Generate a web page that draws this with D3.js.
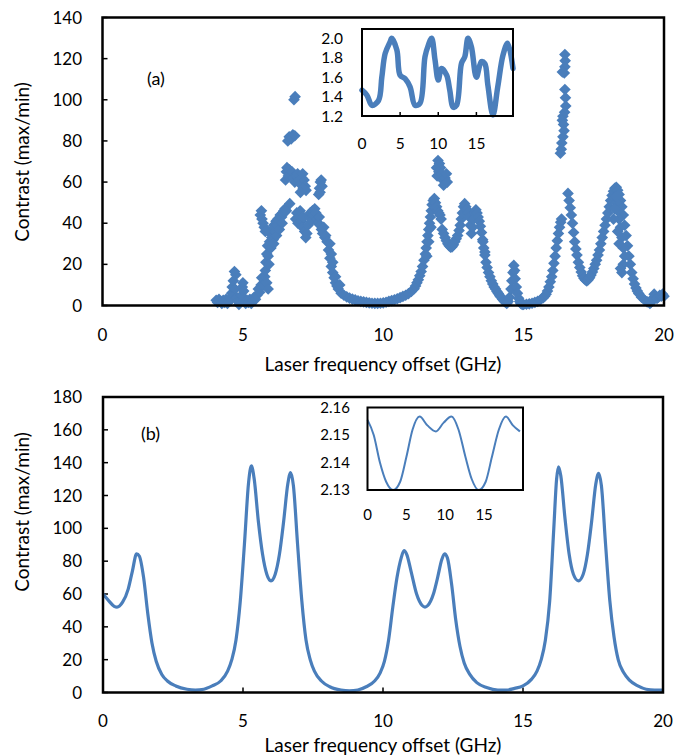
<!DOCTYPE html>
<html><head><meta charset="utf-8">
<script src="https://cdn.jsdelivr.net/npm/d3@7"></script>
<style>
body{margin:0;background:#fff}
text{font-family:Lato,'Open Sans',sans-serif;fill:#000}
</style>
</head><body>
<svg id="c" width="677" height="755"></svg>
<script>
// ---------- DATA ----------
// (a) measured contrast, scatter points
const measFreq = [
4.05,4.1,4.15,4.2,4.25,4.3,4.35,4.4,4.45,4.5,4.55,4.6,4.62,4.66,4.7,4.75,4.72,4.78,4.82,4.86,4.9,4.95,4.98,5.0,5.03,5.06,5.1,5.15,5.2,5.25,5.3,5.35,5.4,5.45,5.5,5.55,5.6,5.65,5.67,5.72,5.78,5.85,5.9,
5.8,5.82,5.85,5.88,5.9,5.93,5.95,5.98,6.0,6.03,6.05,6.08,6.1,6.15,6.18,6.22,6.25,6.3,6.33,6.38,6.42,6.46,6.5,6.55,
5.62,5.66,5.68,5.72,5.76,5.8,
6.67,6.82,6.86,6.6,6.65,6.72,6.78,6.85,6.52,6.55,6.57,6.62,6.66,6.7,6.75,6.8,6.85,6.9,6.95,7.0,7.05,7.1,7.13,7.18,7.22,7.25,7.15,7.05,
7.7,7.73,7.76,7.79,7.82,7.75,
6.88,6.92,6.96,7.0,7.04,7.08,7.12,7.16,7.2,7.24,7.28,7.32,7.36,7.4,7.44,7.48,7.52,7.56,7.6,7.64,7.68,7.72,7.76,7.8,7.84,7.88,7.92,7.95,8.0,8.05,8.1,8.15,8.2,8.25,8.3,8.35,8.4,8.5,8.6,8.7,
8.8,8.9,9.0,9.1,9.2,9.3,9.4,9.5,9.6,9.7,9.8,9.9,10.0,10.1,10.2,10.3,10.4,10.5,10.6,10.7,10.8,10.9,11.0,11.1,11.15,11.2,11.25,11.3,11.35,11.4,11.45,11.5,11.53,11.56,11.59,11.62,11.65,11.68,11.71,11.74,11.78,11.82,11.86,11.9,11.94,11.98,12.02,12.06,
11.9,11.95,12.0,12.04,11.92,11.98,12.08,12.12,12.15,12.2,12.25,12.28,
12.1,12.15,12.2,12.25,12.3,12.35,12.4,12.45,12.5,12.55,12.6,12.65,12.7,12.74,12.78,12.82,12.86,12.9,12.94,12.98,13.02,13.06,13.1,13.14,13.18,13.22,13.26,13.3,13.34,13.38,13.42,13.46,13.5,13.54,13.58,13.62,13.66,13.7,13.75,13.8,13.85,13.9,13.95,14.0,14.05,14.1,14.15,14.2,14.25,14.3,14.35,14.4,
14.45,14.5,14.55,14.58,14.62,14.65,14.68,14.7,14.74,14.78,14.82,14.86,14.9,14.95,
15.0,15.1,15.2,15.3,15.4,15.5,15.6,15.7,15.75,15.8,15.85,15.9,15.95,16.0,16.04,16.08,16.12,16.16,16.2,16.24,16.28,16.32,16.35,
16.47,16.49,16.5,16.46,16.4,16.38,16.42,16.44,16.4,16.36,16.34,16.31,
16.47,16.48,16.47,16.45,16.38,
16.58,16.62,16.66,16.7,16.74,16.78,16.82,16.86,16.9,16.95,17.0,17.05,17.1,17.15,17.2,17.25,17.3,17.35,17.4,17.45,17.5,17.55,17.6,17.65,17.7,17.75,17.8,17.85,17.9,17.95,18.0,18.05,18.1,18.15,18.2,18.25,18.3,18.35,18.4,18.45,18.5,18.55,18.6,18.65,18.7,18.75,18.8,18.85,18.9,18.95,19.0,19.05,19.1,19.2,19.3,19.4,19.5,19.55,19.6,19.65,19.7,19.75,19.8,19.85,19.9,19.95,20.0,
18.3,18.35,18.4,18.45,18.5,18.55,18.6,18.55,18.5,18.45,18.4,18.35,18.25,18.2,18.28,
6.1,6.2,6.3,6.4,8.1,8.15,8.2,8.3,8.45,11.55,11.62,11.7,13.55,13.62
];
const measContrast = [
2.5,1.5,3,2,1,2.5,1.5,3,1,2,3.5,6,9,12,16.5,15,8,4,2,0.5,2,5,9,11,7,3,1,2.5,1.5,3,1,2.5,4,3,5,8,6.5,10,13.5,10,14,11,8,
17,21,25,29,24,20,31,35,28,33,37,32,39,36,41,39,42,41,44,43,45,46,47,46,
44,46,42,40,38,36,
49.5,100,101.5,80,82,81,83,82.5,61,65,67,63,66,64,65,62,60,63,64,61,59,62,64,61,58,56,57,55,
54,57,60,61,58,55,
42,45,40,43,46,41,38,43,36,33,35,39,43,45,41,46,44,47,45,42,40,43,39,37,35,38,33,34,31,27,23,19,16,13.5,11,9.5,8,6,5,4.2,
3.6,3.1,2.7,2.3,2,1.8,1.5,1.3,1.1,1,1,1.1,1.3,1.6,2,2.4,2.8,3.3,3.8,4.4,5,5.8,6.8,8.2,9.5,11,12.5,14.5,16.5,19,22,25,28,31,34,37,40,43,46,49,51,52,50,48,46,45,44,42,
67,70.5,69,67,63,65,64,61,58.5,62,64,60,
37,35,33,31.5,30,29,28.4,28.5,29.5,31,32.5,34,36.5,39,42,45,48,49.5,48,46.5,45,43,39,35,38,42,45,46.5,45,43,41,38.5,35.5,32,28,24.5,21,18.5,16,14,12,10.5,9,8,6.8,5.8,4.8,4,3,2.3,1.6,1,
2,4,8,12,16,19.5,17,13,9,6,3.5,2,1,0.5,
0.5,0.6,0.8,1.1,1.5,2,2.8,3.8,4.5,5.5,7,9,11.5,14,17,20.5,24,28,31.5,35,38,40.5,42,
105,101,97,94,92,90,88,85,82,79,76,74,
122,119,116,113,113.5,
54.5,51,47.5,44,40,35.5,31,27.5,24.5,21,18.5,16.3,14.5,13.2,12.4,12,12.5,13.5,14.8,16.3,18,20,22,24.5,27,30,33,36,39,42,45,48,51,53.5,55.5,57,57.5,56,54,51,48,44,39,34,29,24,20,16,13,10.5,8.5,7,5.8,4,2.8,1.8,1,1.8,3.5,5.5,4.5,3.5,4,5,4.5,5.5,4.5,
50,46,42,38,33,28,24,20,16,18,30,36,47,42,53,
30,34,37,40,30,25,21,14,10,24,31,38,31,26
];
// (a) inset
const insetAFreq = [0,0.65,1.3,2.17,2.6,3.04,3.7,3.9,4.57,5.0,5.65,6.3,6.96,7.6,8.26,8.7,9.13,9.57,10.0,10.43,11.1,11.5,11.96,12.4,13.04,13.48,13.9,14.35,15.0,15.65,16.1,16.5,17.17,17.8,18.5,19.1,19.8];
const insetAVal  = [1.466,1.414,1.31,1.36,1.60,1.845,1.966,2.0,1.88,1.62,1.586,1.50,1.31,1.33,1.81,1.93,2.0,1.78,1.57,1.69,1.62,1.47,1.29,1.31,1.74,1.81,2.0,1.91,1.60,1.76,1.74,1.52,1.21,1.50,1.83,1.95,1.69];
// (b) simulated contrast
const simFreq = [0,0.2,0.4,0.5,0.7,0.9,1.05,1.2,1.3,1.45,1.6,1.75,1.9,2.1,2.3,2.6,3.0,3.3,3.6,3.9,4.2,4.45,4.6,4.75,4.9,5.05,5.2,5.3,5.4,5.55,5.7,5.85,6.0,6.15,6.3,6.45,6.6,6.7,6.8,6.95,7.1,7.25,7.4,7.55,7.8,8.1,8.5,8.8,9.1,9.4,9.7,9.9,10.05,10.2,10.35,10.5,10.65,10.75,10.85,11.0,11.2,11.4,11.5,11.6,11.8,11.95,12.1,12.2,12.3,12.45,12.6,12.75,12.9,13.1,13.35,13.7,14.1,14.4,14.7,15.0,15.3,15.5,15.65,15.8,15.95,16.1,16.2,16.27,16.35,16.5,16.65,16.8,16.98,17.15,17.3,17.45,17.6,17.7,17.8,17.95,18.1,18.25,18.4,18.6,18.8,19.1,19.4,19.7,20];
const simVal  = [60,56,52.5,52,55,63,74,84.5,83,70,48,30,19,11,7,4,2,1.5,2,4,7,13,20,32,55,90,128,138,130,104,84,72,68,72,84,104,127,134,126,90,56,32,20,13,7,3.5,1.5,1,1.5,3.5,7,12,19,32,52,70,82,86.5,84,74,60,53,52,53,60,70,81,84.5,82,66,44,28,18,11,6,3,1.5,1.5,2.5,4,8,13,20,32,55,100,130,137.5,132,106,84,72,68,72,84,104,127,133.5,126,90,56,34,20,12,7.5,4,2,1.5,1.5];
// (b) inset
const insetBFreq = [0,0.8,1.6,2.4,3.3,4.2,5.0,5.8,6.7,7.7,8.8,9.8,10.8,11.7,12.6,13.4,14.3,15.2,16.0,16.9,17.8,18.7,19.6];
const insetBVal  = [2.1555,2.150,2.140,2.133,2.130,2.133,2.142,2.152,2.1567,2.1535,2.1513,2.1545,2.1567,2.152,2.142,2.134,2.130,2.133,2.142,2.152,2.1567,2.1535,2.1513];
// ticks
const mainXTicks = [0,5,10,15,20];
const aYTicks = [0,20,40,60,80,100,120,140];
const bYTicks = [0,20,40,60,80,100,120,140,160,180];
const insetXTicks = [0,5,10,15];
const insetAYTicks = [1.2,1.4,1.6,1.8,2.0];
const insetBYTicks = [2.13,2.14,2.15,2.16];

// ---------- DRAW ----------
const svg = d3.select('#c');
svg.append('rect').attr('width',677).attr('height',755).attr('fill','#fff');
const BLUE = '#4A7EBB';

function frame(x, y, xt, yt, opt){
  const g = svg.append('g');
  const [x0,x1] = x.range(), [y0,y1] = y.range();
  if (opt.yTickLen) g.selectAll(null).data(yt).join('line')
    .attr('x1',x0).attr('x2',x0+opt.yTickLen).attr('y1',d=>y(d)).attr('y2',d=>y(d))
    .attr('stroke','#000').attr('stroke-width',1.5);
  if (opt.xTickLen) g.selectAll(null).data(xt.filter(d=>d>x.domain()[0] && d<x.domain()[1])).join('line')
    .attr('x1',d=>x(d)).attr('x2',d=>x(d)).attr('y1',y0).attr('y2',y0-opt.xTickLen)
    .attr('stroke','#000').attr('stroke-width',1.5);
  g.selectAll(null).data(yt).join('text')
    .attr('x',opt.yLabelX).attr('y',d=>y(d)).attr('dy','0.36em')
    .attr('text-anchor','end').attr('font-size',opt.fs)
    .text(opt.yfmt);
  g.selectAll(null).data(xt).join('text')
    .attr('x',d=>x(d)).attr('y',opt.xLabelY)
    .attr('text-anchor','middle').attr('font-size',opt.fs)
    .text(d=>d);
  return g;
}
function border(x,y,w){
  const [x0,x1] = x.range(), [y0,y1] = y.range();
  svg.append('rect').attr('x',x0).attr('y',y1).attr('width',x1-x0).attr('height',y0-y1)
    .attr('fill','none').attr('stroke','#000').attr('stroke-width',w);
}
const TFS = 19, LFS = 17;

// ===== Panel (a) =====
const xa = d3.scaleLinear().domain([0,20]).range([102.5,664]);
const ya = d3.scaleLinear().domain([0,140]).range([305.5,17.5]);
frame(xa, ya, mainXTicks, aYTicks, {yTickLen:5, xTickLen:5, yLabelX:82, xLabelY:341, fs:LFS, yfmt:d=>d});
const diamond = d3.symbol().type(d3.symbolSquare).size(68);
svg.append('g').selectAll('path').data(measFreq.map((f,i)=>[f,measContrast[i]])).join('path')
  .attr('d',diamond)
  .attr('transform',d=>`translate(${xa(d[0])},${ya(d[1])}) rotate(45)`)
  .attr('fill',BLUE);
border(xa, ya, 2.5);
svg.append('text').attr('x',147).attr('y',85).attr('font-size',18).text('(a)');
svg.append('text').attr('x',383).attr('y',371).attr('text-anchor','middle').attr('font-size',TFS).text('Laser frequency offset (GHz)');
svg.append('text').attr('transform','translate(29,162) rotate(-90)').attr('text-anchor','middle').attr('font-size',TFS).text('Contrast (max/min)');

// inset (a)
const xia = d3.scaleLinear().domain([0,19.8]).range([362,513]);
const yia = d3.scaleLinear().domain([1.2,2.096]).range([116,29]);
svg.append('rect').attr('x',362).attr('y',29).attr('width',151).attr('height',87).attr('fill','#fff');
frame(xia, yia, insetXTicks, insetAYTicks, {yTickLen:0, xTickLen:4, yLabelX:343, xLabelY:149, fs:15.5, yfmt:d3.format('.1f')});
svg.append('path').datum(insetAFreq.map((f,i)=>[f,insetAVal[i]]))
  .attr('d', d3.line().curve(d3.curveCatmullRom.alpha(0.5)).x(d=>xia(d[0])).y(d=>yia(d[1])))
  .attr('fill','none').attr('stroke',BLUE).attr('stroke-width',5.5).attr('stroke-linejoin','round').attr('stroke-linecap','round');
border(xia, yia, 2);

// ===== Panel (b) =====
const xb = d3.scaleLinear().domain([0,20]).range([103,663]);
const yb = d3.scaleLinear().domain([0,180]).range([692.5,397]);
frame(xb, yb, mainXTicks, bYTicks, {yTickLen:5, xTickLen:5, yLabelX:82, xLabelY:727, fs:LFS, yfmt:d=>d});
svg.append('path').datum(simFreq.map((f,i)=>[f,simVal[i]]))
  .attr('d', d3.line().curve(d3.curveMonotoneX).x(d=>xb(d[0])).y(d=>yb(d[1])))
  .attr('fill','none').attr('stroke',BLUE).attr('stroke-width',3.2);
border(xb, yb, 2.5);
svg.append('text').attr('x',141).attr('y',440).attr('font-size',18).text('(b)');
svg.append('text').attr('x',383).attr('y',752).attr('text-anchor','middle').attr('font-size',TFS).text('Laser frequency offset (GHz)');
svg.append('text').attr('transform','translate(29,512) rotate(-90)').attr('text-anchor','middle').attr('font-size',TFS).text('Contrast (max/min)');

// inset (b)
const xib = d3.scaleLinear().domain([0,20]).range([367.5,523]);
const yib = d3.scaleLinear().domain([2.13,2.16]).range([490,407.5]);
frame(xib, yib, insetXTicks, insetBYTicks, {yTickLen:0, xTickLen:0, yLabelX:350, xLabelY:520, fs:15, yfmt:d3.format('.2f')});
svg.append('path').datum(insetBFreq.map((f,i)=>[f,insetBVal[i]]))
  .attr('d', d3.line().curve(d3.curveMonotoneX).x(d=>xib(d[0])).y(d=>yib(d[1])))
  .attr('fill','none').attr('stroke',BLUE).attr('stroke-width',2);
border(xib, yib, 2);
</script>
</body></html>
